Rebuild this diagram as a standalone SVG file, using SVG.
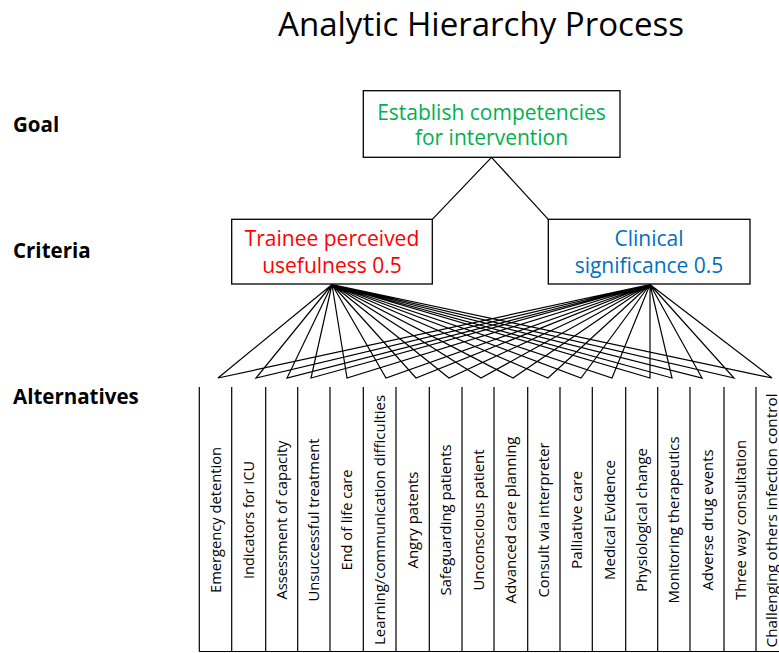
<svg xmlns="http://www.w3.org/2000/svg" width="779" height="653" viewBox="0 0 779 653">
<style>
  .box { fill: #fff; stroke: #000; stroke-width: 1.3; }
  .conn { fill: none; stroke: #000; stroke-width: 1.2; stroke-linejoin: miter; }
  .frame { fill: none; stroke: #000; stroke-width: 1.2; }
  .title { font-family: "Open Sans", "Liberation Sans", sans-serif; font-size: 32px; fill: #000; text-anchor: middle; }
  .side { font-family: "Open Sans", "Liberation Sans", sans-serif; font-size: 20.5px; font-weight: bold; fill: #000; }
  .boxt { font-family: "Open Sans", "Liberation Sans", sans-serif; font-size: 21px; text-anchor: middle; }
  .alt { font-family: "Open Sans", "Liberation Sans", sans-serif; font-size: 14.5px; fill: #000; text-anchor: middle; dominant-baseline: central; }
</style>
<rect width="779" height="653" fill="#fff"/>
<text class="title" x="481" y="36" textLength="406" lengthAdjust="spacingAndGlyphs">Analytic Hierarchy Process</text>
<g id="level-labels">
  <text class="side" x="13" y="132">Goal</text>
  <text class="side" x="13" y="258">Criteria</text>
  <text class="side" x="13" y="404">Alternatives</text>
</g>
<g id="connectors">
  <path class="conn" d="M491.5,157.3 L432.3,219.3 M491.5,157.3 L548.3,219.3"/>
  <path class="conn" d="M332,284.5 L218,378 L650,284.5 M332,284.5 L256,378 L650,284.5 M332,284.5 L287,378 L650,284.5 M332,284.5 L311,378 L650,284.5 M332,284.5 L347,378 L650,284.5 M332,284.5 L386,378 L650,284.5 M332,284.5 L416,378 L650,284.5 M332,284.5 L449,378 L650,284.5 M332,284.5 L481,378 L650,284.5 M332,284.5 L513,378 L650,284.5 M332,284.5 L548,378 L650,284.5 M332,284.5 L581,378 L650,284.5 M332,284.5 L612,378 L650,284.5 M332,284.5 L650,378 L650,284.5 M332,284.5 L672,378 L650,284.5 M332,284.5 L702,378 L650,284.5 M332,284.5 L734,378 L650,284.5 M332,284.5 L772,378 L650,284.5"/>
</g>
<g id="goal">
  <rect class="box" x="363.3" y="90.7" width="256.7" height="66.6"/>
  <text class="boxt" fill="#00B050" x="491.5" y="119.5">Establish competencies</text>
  <text class="boxt" fill="#00B050" x="491.5" y="145">for intervention</text>
</g>
<g id="criterion-trainee">
  <rect class="box" x="231.7" y="219.3" width="200.6" height="64.7"/>
  <text class="boxt" fill="#FF0000" x="332" y="246">Trainee perceived</text>
  <text class="boxt" fill="#FF0000" x="332" y="272.5">usefulness 0.5</text>
</g>
<g id="criterion-clinical">
  <rect class="box" x="548.3" y="219.3" width="201.7" height="64.7"/>
  <text class="boxt" fill="#0070C0" x="649" y="246">Clinical</text>
  <text class="boxt" fill="#0070C0" x="649" y="272.5">significance 0.5</text>
</g>
<g id="alternatives-frame">
  <path class="frame" d="M199.3,387 V651.5 M231.7,387 V651.5 M265.7,387 V651.5 M297.7,387 V651.5 M330,387 V651.5 M363.3,387 V651.5 M396,387 V651.5 M429.3,387 V651.5 M462,387 V651.5 M494,387 V651.5 M527.7,387 V651.5 M560,387 V651.5 M592.3,387 V651.5 M625.7,387 V651.5 M657.7,387 V651.5 M690,387 V651.5 M724,387 V651.5 M756,387 V651.5 M199.3,651.5 H779"/>
</g>
<g id="alt-1"><text class="alt" transform="translate(215.5,520) rotate(-90)" textLength="146" lengthAdjust="spacingAndGlyphs">Emergency detention</text></g>
<g id="alt-2"><text class="alt" transform="translate(248.7,520) rotate(-90)" textLength="118" lengthAdjust="spacingAndGlyphs">Indicators for ICU</text></g>
<g id="alt-3"><text class="alt" transform="translate(281.7,520) rotate(-90)" textLength="159" lengthAdjust="spacingAndGlyphs">Assessment of capacity</text></g>
<g id="alt-4"><text class="alt" transform="translate(313.9,520) rotate(-90)" textLength="163" lengthAdjust="spacingAndGlyphs">Unsuccessful treatment</text></g>
<g id="alt-5"><text class="alt" transform="translate(346.7,520) rotate(-90)" textLength="101" lengthAdjust="spacingAndGlyphs">End of life care</text></g>
<g id="alt-6"><text class="alt" transform="translate(379.7,520) rotate(-90)" textLength="250" lengthAdjust="spacingAndGlyphs">Learning/communication difficulties</text></g>
<g id="alt-7"><text class="alt" transform="translate(412.7,520) rotate(-90)" textLength="97" lengthAdjust="spacingAndGlyphs">Angry patents</text></g>
<g id="alt-8"><text class="alt" transform="translate(445.7,520) rotate(-90)" textLength="151" lengthAdjust="spacingAndGlyphs">Safeguarding patients</text></g>
<g id="alt-9"><text class="alt" transform="translate(478,520) rotate(-90)" textLength="141" lengthAdjust="spacingAndGlyphs">Unconscious patient</text></g>
<g id="alt-10"><text class="alt" transform="translate(510.9,520) rotate(-90)" textLength="167" lengthAdjust="spacingAndGlyphs">Advanced care planning</text></g>
<g id="alt-11"><text class="alt" transform="translate(543.9,520) rotate(-90)" textLength="155" lengthAdjust="spacingAndGlyphs">Consult via interpreter</text></g>
<g id="alt-12"><text class="alt" transform="translate(576.2,520) rotate(-90)" textLength="98" lengthAdjust="spacingAndGlyphs">Palliative care</text></g>
<g id="alt-13"><text class="alt" transform="translate(609,520) rotate(-90)" textLength="120" lengthAdjust="spacingAndGlyphs">Medical Evidence</text></g>
<g id="alt-14"><text class="alt" transform="translate(641.7,520) rotate(-90)" textLength="144" lengthAdjust="spacingAndGlyphs">Physiological change</text></g>
<g id="alt-15"><text class="alt" transform="translate(673.9,520) rotate(-90)" textLength="167" lengthAdjust="spacingAndGlyphs">Monitoring therapeutics</text></g>
<g id="alt-16"><text class="alt" transform="translate(707,520) rotate(-90)" textLength="141" lengthAdjust="spacingAndGlyphs">Adverse drug events</text></g>
<g id="alt-17"><text class="alt" transform="translate(740,520) rotate(-90)" textLength="160" lengthAdjust="spacingAndGlyphs">Three way consultation</text></g>
<g id="alt-18"><text class="alt" transform="translate(771,520.5) rotate(-90)" textLength="254" lengthAdjust="spacingAndGlyphs">Challenging others infection control</text></g>
</svg>
